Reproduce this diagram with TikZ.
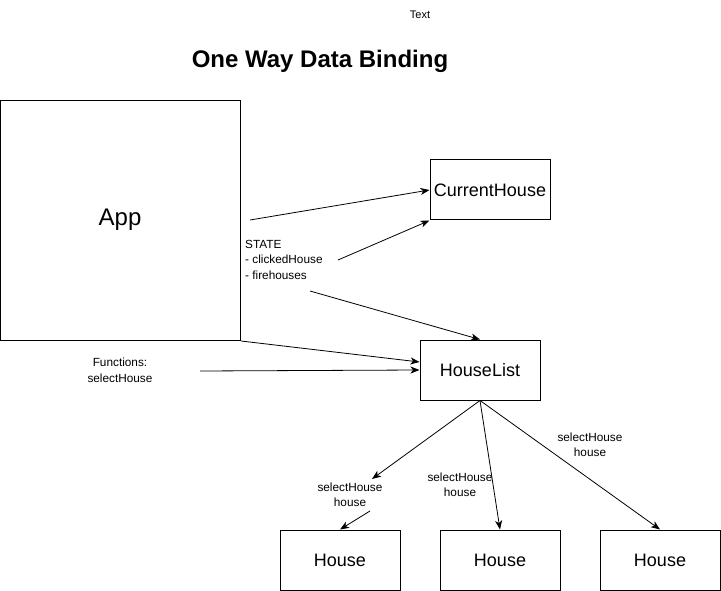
\documentclass[tikz,border=0pt]{standalone}
\usepackage{fontspec}
\setmainfont{Liberation Sans}
\usetikzlibrary{arrows.meta}
\begin{document}
\begin{tikzpicture}[x=1pt,y=-1pt,
  box/.style={draw,line width=1pt,minimum width=120pt,minimum height=60pt,inner sep=0pt,font=\fontsize{18}{21}\selectfont},
  small/.style={font=\fontsize{11.8}{15.5}\selectfont,inner sep=0pt,align=center},
  conn/.style={-{Stealth[length=9pt,width=7pt,inset=2.5pt]},line width=0.8pt}]
\useasboundingbox (0,0) rectangle (721,591);
\fill[white] (0,0) rectangle (721,591);
\node[font=\fontsize{11}{14}\selectfont,inner sep=0pt] (txt) at (420,15) {Text};
\node[font=\fontsize{24}{28}\selectfont\bfseries] (title) at (320,61) {One Way Data Binding};
\node[draw,line width=1pt,minimum width=240pt,minimum height=240pt,inner sep=0pt] (app) at (120.5,220.5) {};
\node[font=\fontsize{24}{28}\selectfont] (applbl) at (120,220) {App};
\node[box] (cur) at (490,190) {CurrentHouse};
\node[box] (hl) at (480,370) {HouseList};
\node[box] (h1) at (340,560) {House};
\node[box] (h2) at (500,560) {House};
\node[box] (h3) at (660,560) {House};
\node[small,align=left,anchor=north west] (state) at (245,240) {STATE\\- clickedHouse\\- firehouses};
\node[small] (funcs) at (120,370.5) {Functions:\\selectHouse};
\node[small] (l1) at (350,495) {selectHouse\\house};
\node[small] (l2) at (460,485) {selectHouse\\house};
\node[small] (l3) at (590,445) {selectHouse\\house};
\coordinate (a1) at (250,220);
\coordinate (a2) at (338,260);
\coordinate (a3) at (310,291);
\coordinate (a5) at (200,371);
\coordinate (m1) at (372,479);
\coordinate (m2) at (370,511);
\draw[conn] (a1) -- (cur.west);
\draw[conn] (a2) -- (cur.south west);
\draw[conn] (a3) -- (hl.north);
\draw[conn] (app.south east) -- ([yshift=8pt]hl.west);
\draw[conn] (a5) -- (hl.west);
\draw[conn] (hl.south) -- (m1);
\draw[conn] (m2) -- (h1.north);
\draw[conn] (hl.south) -- (h2.north);
\draw[conn] (hl.south) -- (h3.north);
\end{tikzpicture}
\end{document}
